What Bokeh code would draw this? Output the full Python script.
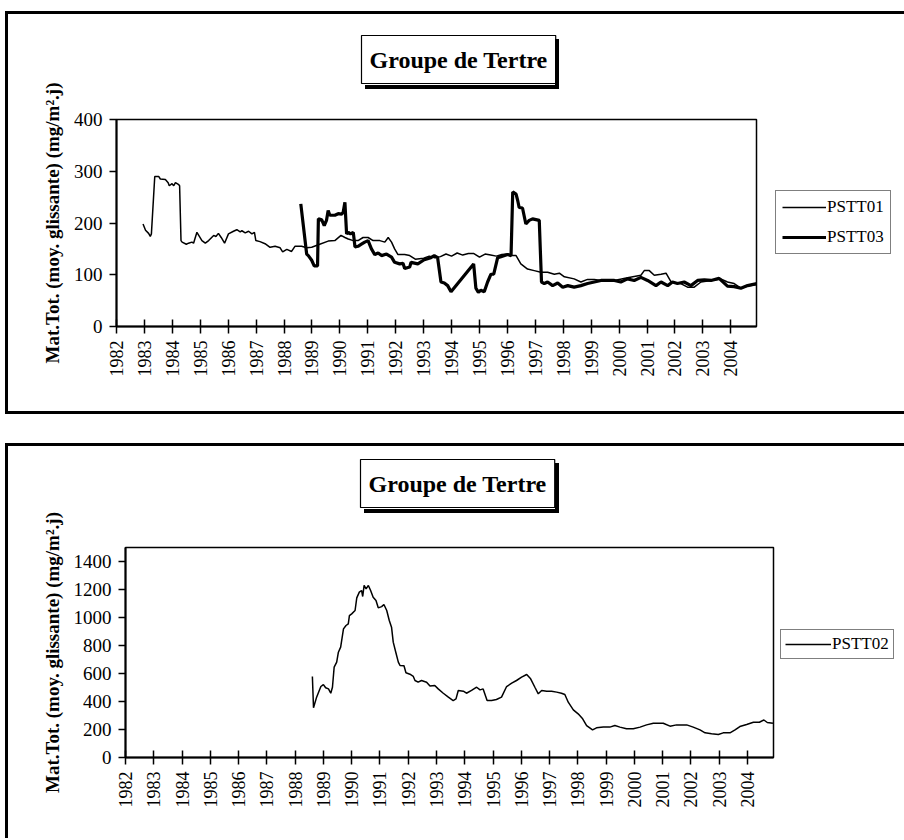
import math
from bokeh.plotting import figure
from bokeh.models import (FixedTicker, Legend, LegendItem, Range1d, Title, InlineStyleSheet)
from bokeh.layouts import column, row
from bokeh.embed import file_html
from bokeh.resources import INLINE

FONT = "Liberation Serif"

TITLE = "Groupe de Tertre"
Y_TITLE = "Mat.Tot. (moy. glissante) (mg/m².j)"
YEAR_TICKS = list(range(1982, 2005))
TOP_Y_TICKS = [0, 100, 200, 300, 400]
BOTTOM_Y_TICKS = [0, 200, 400, 600, 800, 1000, 1200, 1400]

pstt01_years = [1982.95, 1983.04, 1983.15, 1983.21, 1983.25, 1983.37, 1983.51, 1983.57, 1983.75, 1983.85,
                1983.89, 1983.99, 1984.05, 1984.11, 1984.23, 1984.26, 1984.31, 1984.35, 1984.50, 1984.58,
                1984.70, 1984.76, 1984.88, 1985.06, 1985.18, 1985.30, 1985.48, 1985.56, 1985.65, 1985.75,
                1985.87, 1986.01, 1986.19, 1986.31, 1986.43, 1986.49, 1986.61, 1986.73, 1986.85, 1986.94,
                1986.99, 1987.14, 1987.32, 1987.50, 1987.68, 1987.86, 1987.95, 1988.10, 1988.27, 1988.39,
                1988.63, 1988.81, 1988.99, 1989.23, 1989.58, 1989.82, 1990.04, 1990.18, 1990.30, 1990.48,
                1990.65, 1990.83, 1991.01, 1991.19, 1991.43, 1991.61, 1991.73, 1991.85, 1991.96, 1992.08,
                1992.32, 1992.50, 1992.70, 1993.00, 1993.20, 1993.40, 1993.60, 1993.80, 1994.00, 1994.20,
                1994.40, 1994.60, 1994.80, 1995.00, 1995.20, 1995.40, 1995.60, 1995.80, 1996.00, 1996.13,
                1996.31, 1996.48, 1996.72, 1996.96, 1997.20, 1997.44, 1997.68, 1997.86, 1998.04, 1998.39,
                1998.63, 1998.87, 1999.11, 1999.35, 1999.83, 2000.30, 2000.78, 2000.90, 2001.08, 2001.26,
                2001.50, 2001.68, 2001.86, 2002.21, 2002.45, 2002.69, 2002.93, 2003.29, 2003.64, 2003.88,
                2004.12, 2004.36, 2004.60, 2004.93]
pstt01_values = [198, 186, 180, 174, 179, 290, 290, 285, 284, 278,
                 272, 276, 272, 278, 274, 272, 166, 163, 159, 161,
                 163, 161, 182, 166, 161, 166, 176, 174, 180, 172,
                 161, 179, 184, 187, 183, 185, 181, 184, 179, 182,
                 166, 164, 160, 153, 155, 152, 144, 149, 145, 155,
                 155, 152, 153, 158, 165, 166, 176, 172, 169, 166,
                 166, 172, 172, 166, 166, 163, 172, 163, 150, 139,
                 139, 137, 130, 132, 136, 133, 135, 140, 136, 142,
                 138, 141, 141, 134, 140, 138, 136, 139, 140, 137,
                 137, 121, 111, 108, 105, 105, 101, 103, 96, 92,
                 86, 91, 91, 89, 89, 94, 99, 108, 108, 99,
                 101, 103, 86, 83, 76, 76, 86, 89, 92, 86,
                 83, 74, 78, 81]

pstt03_years = [1988.60, 1988.81, 1988.87, 1988.99, 1989.08, 1989.20, 1989.23, 1989.35, 1989.44, 1989.52,
                1989.58, 1989.64, 1989.82, 1989.94, 1990.06, 1990.12, 1990.18, 1990.24, 1990.30, 1990.38,
                1990.48, 1990.54, 1990.65, 1990.77, 1990.89, 1991.01, 1991.13, 1991.25, 1991.37, 1991.49,
                1991.67, 1991.85, 1991.96, 1992.14, 1992.26, 1992.32, 1992.50, 1992.55, 1992.79, 1993.02,
                1993.26, 1993.38, 1993.50, 1993.62, 1993.74, 1993.86, 1993.98, 1994.79, 1994.87, 1994.96,
                1995.05, 1995.17, 1995.29, 1995.41, 1995.51, 1995.65, 1995.77, 1996.01, 1996.13, 1996.19,
                1996.31, 1996.37, 1996.42, 1996.54, 1996.66, 1996.78, 1996.90, 1997.14, 1997.22, 1997.32,
                1997.44, 1997.62, 1997.80, 1997.98, 1998.16, 1998.39, 1998.63, 1998.87, 1999.11, 1999.35,
                1999.59, 1999.83, 2000.06, 2000.30, 2000.54, 2000.78, 2001.02, 2001.32, 2001.50, 2001.74,
                2001.91, 2002.09, 2002.33, 2002.57, 2002.81, 2003.05, 2003.29, 2003.58, 2003.88, 2004.12,
                2004.36, 2004.60, 2004.93]
pstt03_values = [237, 140, 137, 128, 117, 117, 208, 206, 195, 205,
                 224, 215, 215, 218, 217, 221, 240, 179, 182, 179,
                 182, 154, 155, 159, 163, 166, 150, 139, 142, 137,
                 140, 134, 124, 121, 122, 112, 115, 124, 121, 129,
                 133, 137, 133, 86, 84, 79, 67, 121, 74, 66,
                 70, 67, 86, 101, 101, 133, 135, 139, 137, 260,
                 256, 243, 230, 229, 198, 205, 208, 205, 86, 83,
                 86, 79, 84, 76, 79, 76, 79, 83, 86, 89,
                 89, 89, 86, 92, 89, 95, 89, 79, 86, 79,
                 86, 83, 86, 79, 89, 90, 89, 93, 78, 77,
                 74, 79, 83]

pstt02_years = [1988.61, 1988.65, 1988.76, 1988.91, 1989.00, 1989.08, 1989.18, 1989.26, 1989.32, 1989.38,
                1989.47, 1989.53, 1989.61, 1989.71, 1989.80, 1989.88, 1989.92, 1990.00, 1990.12, 1990.18,
                1990.27, 1990.35, 1990.39, 1990.44, 1990.51, 1990.59, 1990.67, 1990.76, 1990.86, 1990.94,
                1991.06, 1991.14, 1991.24, 1991.33, 1991.41, 1991.47, 1991.56, 1991.65, 1991.71, 1991.85,
                1991.92, 1992.06, 1992.18, 1992.24, 1992.35, 1992.47, 1992.65, 1992.77, 1992.94, 1993.06,
                1993.24, 1993.42, 1993.59, 1993.69, 1993.77, 1993.95, 1994.06, 1994.24, 1994.42, 1994.54,
                1994.65, 1994.79, 1994.95, 1995.12, 1995.30, 1995.48, 1995.66, 1995.83, 1996.01, 1996.19,
                1996.33, 1996.48, 1996.60, 1996.72, 1996.90, 1997.07, 1997.25, 1997.42, 1997.54, 1997.66,
                1997.84, 1998.01, 1998.17, 1998.31, 1998.52, 1998.66, 1998.90, 1999.13, 1999.31, 1999.49,
                1999.72, 1999.96, 2000.20, 2000.43, 2000.67, 2001.02, 2001.26, 2001.49, 2001.85, 2002.08,
                2002.32, 2002.50, 2002.73, 2002.97, 2003.14, 2003.38, 2003.56, 2003.73, 2003.97, 2004.21,
                2004.42, 2004.58, 2004.70, 2004.90]
pstt02_values = [579, 355, 431, 507, 521, 498, 490, 459, 502, 645,
                 681, 752, 788, 919, 943, 955, 1014, 1026, 1050, 1140,
                 1181, 1193, 1150, 1229, 1205, 1229, 1193, 1145, 1121, 1069,
                 1078, 1093, 1050, 979, 931, 824, 752, 681, 657, 655,
                 605, 595, 579, 550, 538, 550, 538, 510, 514, 490,
                 459, 431, 407, 419, 479, 474, 459, 479, 502, 483,
                 490, 407, 407, 414, 431, 507, 531, 550, 574, 593,
                 562, 502, 455, 479, 474, 474, 467, 459, 450, 395,
                 340, 312, 276, 228, 197, 212, 217, 217, 228, 217,
                 205, 205, 217, 233, 245, 245, 224, 233, 233, 217,
                 197, 176, 169, 164, 176, 176, 197, 221, 236, 252,
                 252, 268, 250, 245]


def panel_css(frame_top, frame_height, frame_bottom_border, shadow_left, shadow_top, shadow_w, shadow_h):
    bottom_rule = "border-bottom: 3px solid black;" if frame_bottom_border else "border-bottom: none;"
    return f"""
:host {{ position: relative; }}
:host::before {{
  content: ""; position: absolute; left: {shadow_left}px; top: {shadow_top}px;
  width: {shadow_w}px; height: {shadow_h}px; box-sizing: border-box;
  border-right: 4px solid black; border-bottom: 4px solid black;
  z-index: 10; pointer-events: none;
}}
:host::after {{
  content: ""; position: absolute; left: 5px; top: {frame_top}px;
  width: 899px; height: {frame_height}px; box-sizing: border-box;
  border-left: 3px solid black; border-top: 3px solid black; border-right: none; {bottom_rule}
  z-index: 10; pointer-events: none;
}}
"""


def make_fig(width, height, left, right, top, bottom, ymax, yticks, title_offset, title_standoff):
    p = figure(width=width, height=height, output_backend="svg", toolbar_location=None, title=None,
               x_range=Range1d(1982, 2004.92), y_range=Range1d(0, ymax),
               min_border_left=left, min_border_right=right,
               min_border_top=top, min_border_bottom=bottom,
               background_fill_color="white", border_fill_color="white")
    p.xgrid.visible = False
    p.ygrid.visible = False
    p.outline_line_color = "black"
    p.outline_line_width = 1.5
    xa = p.xaxis[0]
    xa.ticker = FixedTicker(ticks=YEAR_TICKS)
    xa.major_label_orientation = math.pi / 2
    xa.major_label_text_font = FONT
    xa.major_label_text_font_size = "18px"
    xa.major_label_text_color = "black"
    xa.major_label_standoff = 7
    xa.major_tick_in = 7
    xa.major_tick_out = 7
    xa.minor_tick_line_color = None
    xa.axis_line_width = 2
    xa.major_tick_line_width = 1.5
    xa.axis_line_color = "black"
    xa.major_tick_line_color = "black"
    ya = p.yaxis[0]
    ya.ticker = FixedTicker(ticks=yticks)
    ya.major_label_text_font = FONT
    ya.major_label_text_font_size = "19px"
    ya.major_label_text_color = "black"
    ya.major_label_standoff = 7
    ya.major_tick_in = 0
    ya.major_tick_out = 7
    ya.minor_tick_line_color = None
    ya.axis_line_width = 2
    ya.major_tick_line_width = 1.5
    ya.axis_line_color = "black"
    ya.major_tick_line_color = "black"
    ya.axis_label = Y_TITLE
    ya.axis_label_text_font = FONT
    ya.axis_label_text_font_style = "bold"
    ya.axis_label_text_font_size = "19px"
    ya.axis_label_text_color = "black"
    ya.axis_label_standoff = 8
    t = Title(text=TITLE, align="left", vertical_align="top", offset=title_offset, standoff=title_standoff,
              text_font=FONT, text_font_style="bold", text_font_size="24px", text_color="black",
              border_line_color="black", border_line_width=1.2, background_fill_color="white",
              padding=dict(x=8, y=11))
    p.add_layout(t, "above")
    return p


def legend_fig(width, height, specs, loc, padding, spacing, glyph_width):
    q = figure(width=width, height=height, output_backend="svg", toolbar_location=None, title=None,
               x_range=Range1d(0, 1), y_range=Range1d(0, 1),
               x_axis_location=None, y_axis_location=None,
               min_border=0, min_border_left=0, min_border_right=0, min_border_top=0, min_border_bottom=0)
    q.grid.visible = False
    q.outline_line_color = None
    q.background_fill_alpha = 0
    q.border_fill_alpha = 0
    items = []
    for label, lw in specs:
        # legend sample only: a single NaN point draws nothing in the plot area
        r = q.line(x=[float("nan")], y=[float("nan")], line_color="black", line_width=lw)
        items.append(LegendItem(label=label, renderers=[r]))
    leg = Legend(items=items, location=loc, orientation="vertical",
                 border_line_color="black", border_line_width=1.5,
                 background_fill_color="white", background_fill_alpha=1,
                 padding=padding, spacing=spacing, glyph_width=glyph_width, glyph_height=20,
                 label_height=20, label_standoff=1, margin=0,
                 label_text_font=FONT, label_text_font_size="17px", label_text_color="black")
    q.add_layout(leg)
    return q


# ---------- top chart ----------
p1 = make_fig(758, 420, 116, 2, 119, 94, 400, TOP_Y_TICKS, 245, 68)
p1.line(pstt01_years, pstt01_values, line_color="black", line_width=1.5)
p1.line(pstt03_years, pstt03_values, line_color="black", line_width=3.2)
l1 = legend_fig(146, 420, [("PSTT01", 1.5), ("PSTT03", 3.2)], (17, 72), 6, 10, 44)
row1 = row(p1, l1, spacing=0,
           stylesheets=[InlineStyleSheet(css=panel_css(11, 403, True, 365, 39, 194, 50))])

# ---------- bottom chart ----------
p2 = make_fig(775, 418, 125, 2, 127, 81, 1500, BOTTOM_Y_TICKS, 235, 76)
p2.line(pstt02_years, pstt02_values, line_color="black", line_width=1.5)
l2 = legend_fig(129, 418, [("PSTT02", 1.5)], (5, 98), 4, 0, 46)
row2 = row(p2, l2, spacing=0,
           stylesheets=[InlineStyleSheet(css=panel_css(23, 395, False, 364, 43, 195, 50))])

layout = column(row1, row2, spacing=0)
open("out.html", "w").write(file_html(layout, INLINE))
